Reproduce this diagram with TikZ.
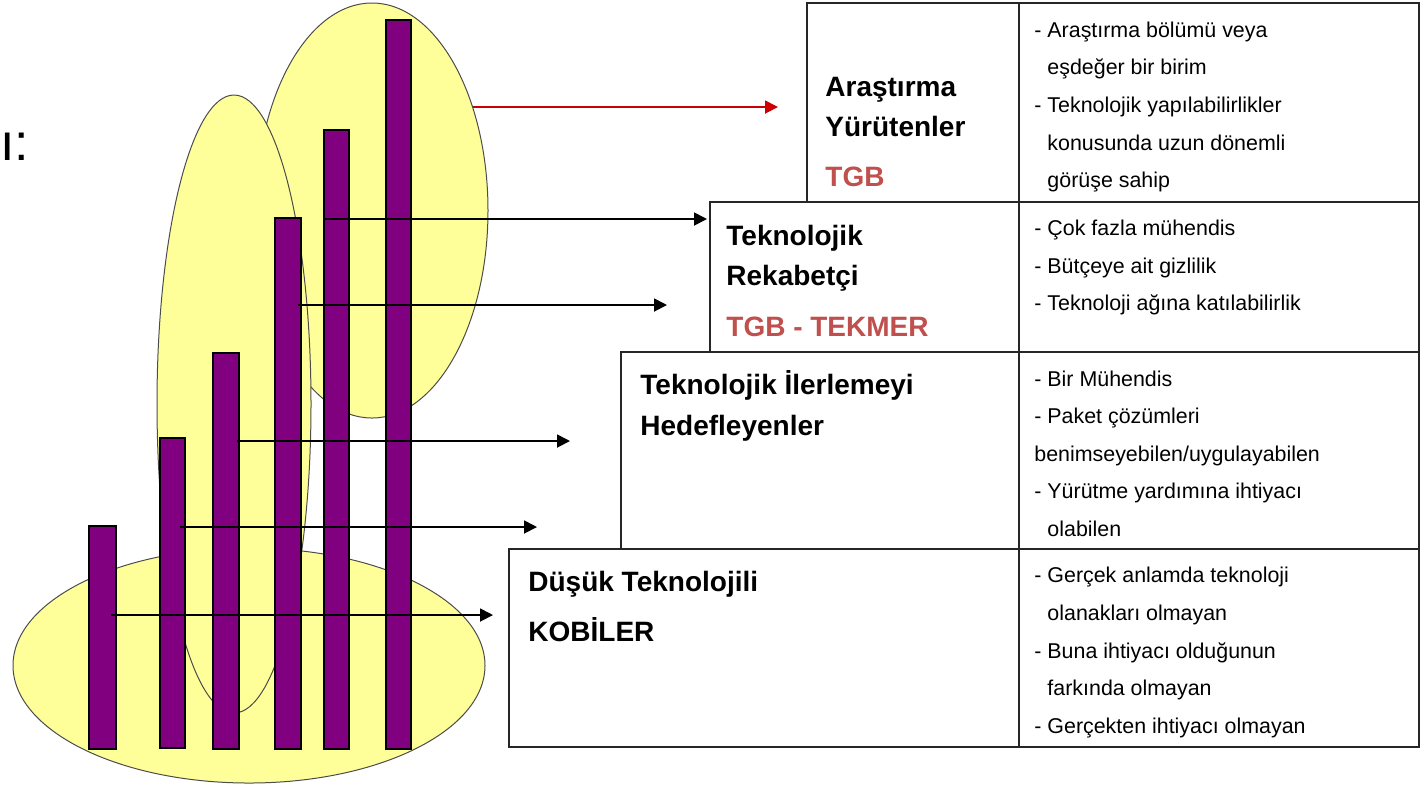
\documentclass[tikz,border=0pt]{standalone}
\usepackage{fontspec}
\setmainfont{Liberation Sans}
\usetikzlibrary{arrows.meta}
\definecolor{pale}{HTML}{FFFF99}
\definecolor{plum}{HTML}{800080}
\definecolor{tgbred}{HTML}{C0504D}
\definecolor{arrred}{HTML}{CC0000}

\begin{document}
\begin{tikzpicture}[x=0.5pt,y=-0.5pt,
    blob/.style={draw=black!70,fill=pale,line width=0.5pt},
    column/.style={draw=black,fill=plum,line width=0.6pt},
    pointer/.style={-{Triangle[length=6.5pt,width=6.5pt]},line width=0.9pt},
    cell/.style={draw=black!85,line width=0.9pt},
    title/.style={anchor=base west,inner sep=0pt,font=\fontsize{14}{16}\selectfont\bfseries},
    item/.style={anchor=base west,inner sep=0pt,font=\fontsize{10.7}{12}\selectfont}]
  \useasboundingbox (0,0) rectangle (1422,784);

  \node[anchor=base west,inner sep=0pt,font=\fontsize{26}{28}\selectfont] (cut) at (0,160) {ı:};

  \begin{scope}
    \draw[blob] (372,210.5) ellipse [x radius=116,y radius=207.5];
    \draw[blob] (249,665.5) ellipse [x radius=236,y radius=117.5];
    \draw[blob] (234,404) ellipse [x radius=77,y radius=309];
  \end{scope}

  \begin{scope}
    \draw[column] (89,526) rectangle (116,749);
    \draw[column] (160,438) rectangle (185,748);
    \draw[column] (213,353) rectangle (239,749);
    \draw[column] (275,218) rectangle (301,749);
    \draw[column] (324,130) rectangle (349,749);
    \draw[column] (386,20) rectangle (411,749);
  \end{scope}

  \begin{scope}
    \draw[cell] (807,3) rectangle (1419,202);
    \draw[cell] (710,202) rectangle (1419,352);
    \draw[cell] (621,352) rectangle (1419,549);
    \draw[cell] (509,549) rectangle (1419,747);
    \draw[cell] (1019,3) -- (1019,747);
  \end{scope}

  \begin{scope}
    \node[title] (arY1) at (825,96) {Araştırma};
    \node[title] (arY2) at (825,136.5) {Yürütenler};
    \node[title,text=tgbred] (arY3) at (825,186.5) {TGB};
    \node[title] (tekR1) at (726,245) {Teknolojik};
    \node[title] (tekR2) at (726,285) {Rekabetçi};
    \node[title,text=tgbred] (tekR3) at (726,336.5) {TGB - TEKMER};
    \node[title] (ilH1) at (640,394) {Teknolojik İlerlemeyi};
    \node[title] (ilH2) at (640,435) {Hedefleyenler};
    \node[title] (dusK1) at (528,591.5) {Düşük Teknolojili};
    \node[title] (dusK2) at (528,641.5) {KOBİLER};
  \end{scope}

  \begin{scope}
    \foreach \t [count=\i] in {- Araştırma bölümü veya,\phantom{- }eşdeğer bir birim,
        - Teknolojik yapılabilirlikler,\phantom{- }konusunda uzun dönemli,\phantom{- }görüşe sahip}
      \node[item] (arL\i) at (1034,{37.3+37.6*(\i-1)}) {\t};
    \foreach \t [count=\i] in {- Çok fazla mühendis,- Bütçeye ait gizlilik,- Teknoloji ağına katılabilirlik}
      \node[item] (tekL\i) at (1034,{235.7+37.3*(\i-1)}) {\t};
    \foreach \t [count=\i] in {- Bir Mühendis,- Paket çözümleri,benimseyebilen/uygulayabilen,
        - Yürütme yardımına ihtiyacı,\phantom{- }olabilen}
      \node[item] (ilL\i) at (1034,{386+37.5*(\i-1)}) {\t};
    \foreach \t [count=\i] in {- Gerçek anlamda teknoloji,\phantom{- }olanakları olmayan,
        - Buna ihtiyacı olduğunun,\phantom{- }farkında olmayan,- Gerçekten ihtiyacı olmayan}
      \node[item] (dusL\i) at (1034,{582.7+37.65*(\i-1)}) {\t};
  \end{scope}

  \begin{scope}
    \coordinate (redS) at (473,107);   \coordinate (redE) at (778,107);
    \coordinate (b1S) at (325,219);    \coordinate (b1E) at (707,219);
    \coordinate (b2S) at (298,305);    \coordinate (b2E) at (667,305);
    \coordinate (b3S) at (237,441);    \coordinate (b3E) at (570,441);
    \coordinate (b4S) at (180,527);    \coordinate (b4E) at (537,527);
    \coordinate (b5S) at (111,615);    \coordinate (b5E) at (493,615);
    \draw[pointer,arrred] (redS) -- (redE);
    \draw[pointer] (b1S) -- (b1E);
    \draw[pointer] (b2S) -- (b2E);
    \draw[pointer] (b3S) -- (b3E);
    \draw[pointer] (b4S) -- (b4E);
    \draw[pointer] (b5S) -- (b5E);
  \end{scope}
\end{tikzpicture}
\end{document}
